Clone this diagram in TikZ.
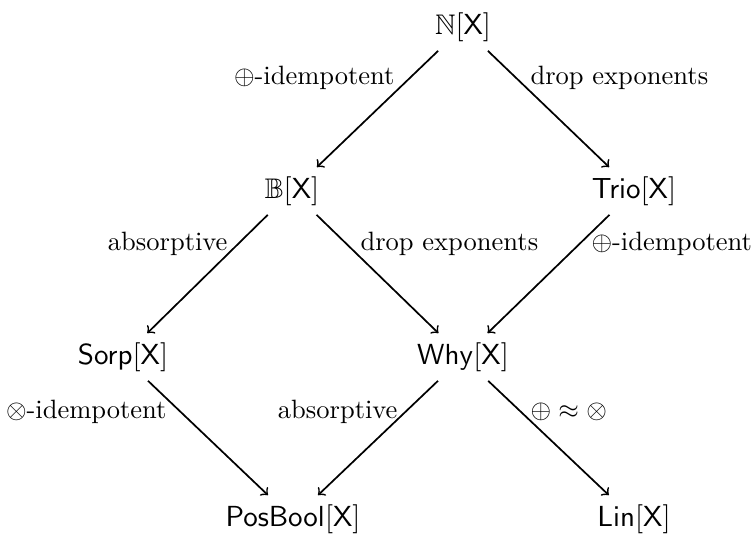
\documentclass[tikz,border=0pt]{standalone}
\usepackage{amssymb}
\begin{document}
\begin{tikzpicture}[x=0.3774pt,y=-0.3774pt,
  obj/.style={inner sep=3.33pt, font=\fontsize{10.7pt}{13pt}\selectfont},
  lbl/.style={inner sep=0pt},
  arr/.style={->, line width=0.65pt}]
\useasboundingbox (0,0) rectangle (752,535);
% objects
\node[obj] (N)    at (463,27)  {$\mathbb{N}[\mathsf{X}]$};
\node[obj] (B)    at (292,191) {$\mathbb{B}[\mathsf{X}]$};
\node[obj] (Trio) at (634,191) {$\mathsf{Trio}[\mathsf{X}]$};
\node[obj] (Sorp) at (123,357) {$\mathsf{Sorp}[\mathsf{X}]$};
\node[obj] (Why)  at (463,357) {$\mathsf{Why}[\mathsf{X}]$};
\node[obj] (PB)   at (293,519) {$\mathsf{PosBool}[\mathsf{X}]$};
\node[obj] (Lin)  at (634,519) {$\mathsf{Lin}[\mathsf{X}]$};
% arrows
\draw[arr] (N) -- (B);
\draw[arr] (N) -- (Trio);
\draw[arr] (B) -- (Sorp);
\draw[arr] (B) -- (Why);
\draw[arr] (Trio) -- (Why);
\draw[arr] (Sorp) -- (PB);
\draw[arr] (Why) -- (PB);
\draw[arr] (Why) -- (Lin);
% labels
\node[lbl, anchor=east] (l1) at (395,78)  {$\oplus$-idempotent};
\node[lbl, anchor=west] (l2) at (530,78)  {drop exponents};
\node[lbl, anchor=east] (l3) at (228,244) {absorptive};
\node[lbl, anchor=west] (l4) at (360,244) {drop exponents};
\node[lbl, anchor=west] (l5) at (591,244) {$\oplus$-idempotent};
\node[lbl, anchor=east] (l6) at (167,412) {$\otimes$-idempotent};
\node[lbl, anchor=east] (l7) at (398,412) {absorptive};
\node[lbl, anchor=west] (l8) at (530,412) {$\oplus\approx\otimes$};
\end{tikzpicture}
\end{document}
